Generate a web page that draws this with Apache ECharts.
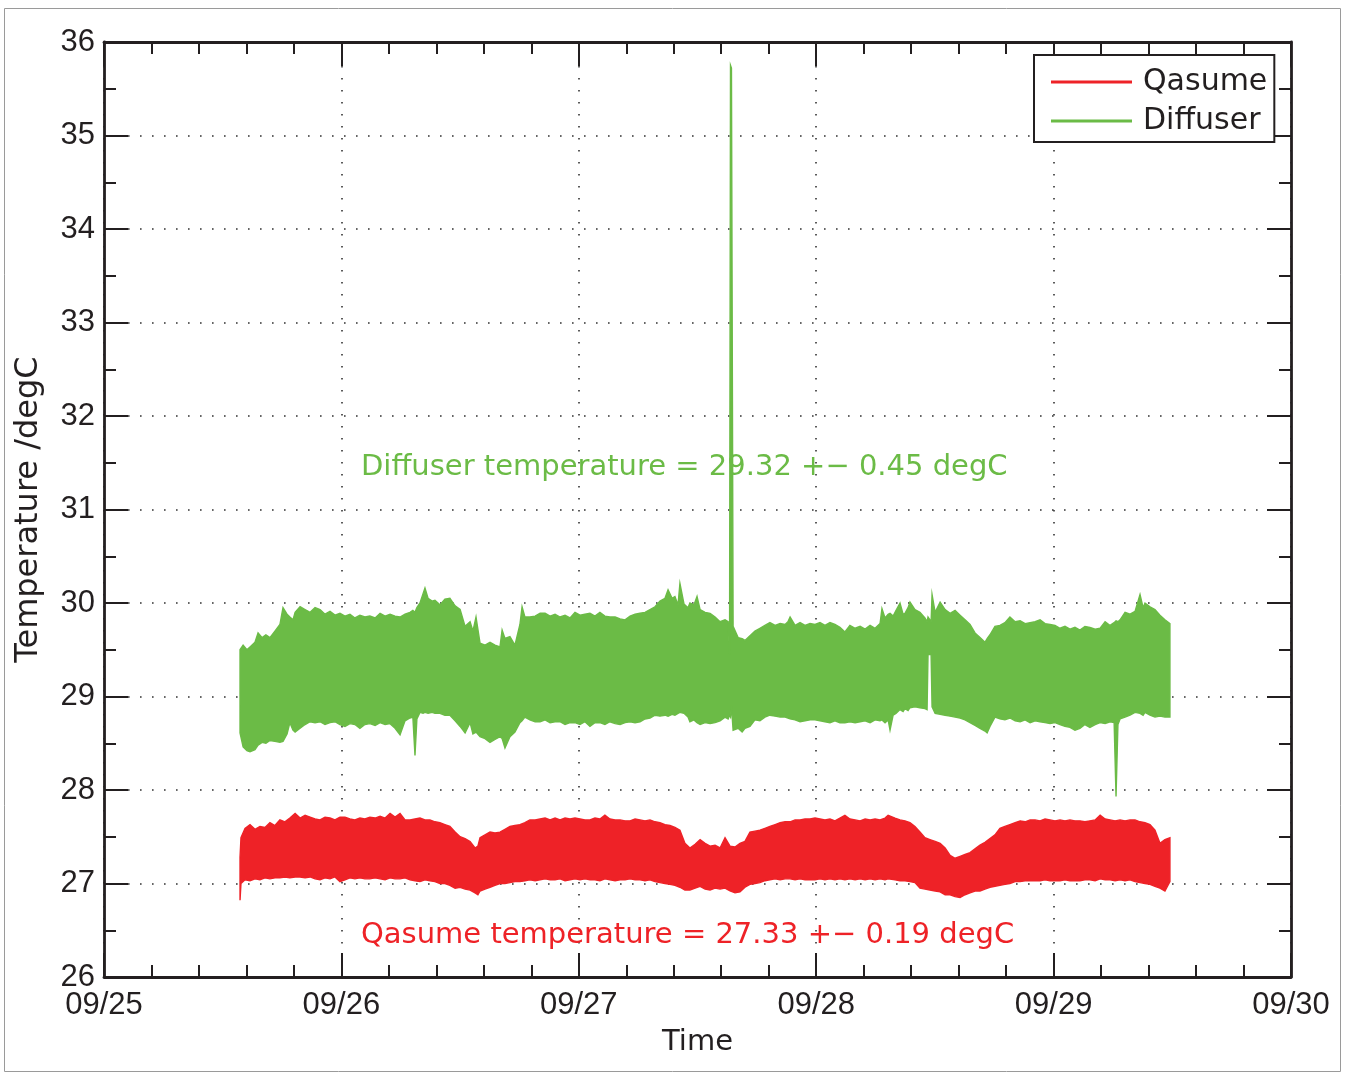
<!DOCTYPE html>
<html>
<head>
<meta charset="utf-8">
<title>Qasume and diffuser temperature</title>
<script src="https://cdn.jsdelivr.net/npm/echarts@6/dist/echarts.min.js"></script>
<style>
  html, body { margin: 0; padding: 0; background: #fff; }
  #chart { width: 1351px; height: 1074px; }
</style>
</head>
<body>
<div id="chart"></div>
<script>
// Time is given as day of September (09/25 00:00 = 25.0).
// Each row: [time, band top /degC, band bottom /degC] of the 1-min record.
const qasumeBand = [
  [25.573, 27.28, 26.82], [25.577, 27.49, 27.00], [25.594, 27.59, 27.04], [25.615, 27.63, 27.03],
  [25.636, 27.58, 27.05], [25.657, 27.61, 27.04], [25.678, 27.60, 27.06], [25.699, 27.65, 27.05],
  [25.720, 27.62, 27.06], [25.741, 27.68, 27.06], [25.762, 27.66, 27.07], [25.783, 27.70, 27.06],
  [25.805, 27.75, 27.07], [25.826, 27.70, 27.07], [25.847, 27.73, 27.06], [25.868, 27.71, 27.07],
  [25.889, 27.69, 27.05], [25.910, 27.68, 27.04], [25.931, 27.71, 27.06], [25.952, 27.70, 27.05],
  [25.973, 27.68, 27.07], [25.994, 27.71, 27.02], [26.015, 27.71, 27.04], [26.036, 27.69, 27.06],
  [26.057, 27.68, 27.05], [26.078, 27.70, 27.06], [26.099, 27.69, 27.05], [26.120, 27.71, 27.05],
  [26.142, 27.70, 27.06], [26.163, 27.72, 27.05], [26.184, 27.70, 27.04], [26.205, 27.75, 27.06],
  [26.226, 27.71, 27.05], [26.247, 27.75, 27.05], [26.268, 27.68, 27.06], [26.289, 27.68, 27.04],
  [26.310, 27.69, 27.03], [26.331, 27.70, 27.02], [26.352, 27.68, 27.04], [26.373, 27.68, 27.03],
  [26.394, 27.66, 27.02], [26.415, 27.65, 27.00], [26.436, 27.63, 27.00], [26.457, 27.61, 26.98],
  [26.479, 27.55, 26.95], [26.500, 27.50, 26.96], [26.521, 27.48, 26.94], [26.542, 27.45, 26.93],
  [26.563, 27.38, 26.90], [26.575, 27.40, 26.88], [26.584, 27.49, 26.92], [26.605, 27.52, 26.94],
  [26.626, 27.55, 26.96], [26.647, 27.54, 26.98], [26.668, 27.55, 27.00], [26.689, 27.58, 27.00],
  [26.710, 27.61, 27.01], [26.731, 27.62, 27.02], [26.752, 27.63, 27.02], [26.773, 27.65, 27.03],
  [26.794, 27.68, 27.04], [26.816, 27.68, 27.03], [26.837, 27.69, 27.04], [26.858, 27.70, 27.05],
  [26.879, 27.68, 27.04], [26.900, 27.70, 27.04], [26.921, 27.68, 27.05], [26.942, 27.70, 27.03],
  [26.963, 27.69, 27.04], [26.984, 27.70, 27.05], [27.005, 27.69, 27.04], [27.026, 27.68, 27.05],
  [27.047, 27.68, 27.04], [27.068, 27.70, 27.04], [27.089, 27.69, 27.03], [27.110, 27.73, 27.05],
  [27.131, 27.69, 27.04], [27.153, 27.68, 27.03], [27.174, 27.68, 27.04], [27.195, 27.67, 27.04],
  [27.216, 27.67, 27.05], [27.237, 27.69, 27.04], [27.258, 27.68, 27.04], [27.279, 27.67, 27.03],
  [27.300, 27.68, 27.04], [27.321, 27.66, 27.02], [27.342, 27.65, 27.01], [27.363, 27.63, 27.00],
  [27.384, 27.62, 26.99], [27.405, 27.60, 26.98], [27.426, 27.57, 26.96], [27.447, 27.43, 26.93],
  [27.468, 27.38, 26.93], [27.490, 27.42, 26.95], [27.511, 27.47, 26.97], [27.532, 27.43, 26.94],
  [27.553, 27.40, 26.93], [27.574, 27.41, 26.95], [27.595, 27.38, 26.94], [27.616, 27.49, 26.95],
  [27.637, 27.40, 26.92], [27.658, 27.39, 26.90], [27.679, 27.43, 26.91], [27.700, 27.45, 26.96],
  [27.721, 27.55, 26.99], [27.742, 27.56, 27.00], [27.763, 27.57, 27.01], [27.784, 27.59, 27.03],
  [27.805, 27.61, 27.04], [27.827, 27.63, 27.05], [27.848, 27.65, 27.04], [27.869, 27.66, 27.05],
  [27.890, 27.66, 27.05], [27.911, 27.68, 27.04], [27.932, 27.68, 27.05], [27.953, 27.69, 27.04],
  [27.974, 27.69, 27.04], [27.995, 27.70, 27.04], [28.016, 27.69, 27.05], [28.037, 27.68, 27.04],
  [28.058, 27.69, 27.05], [28.079, 27.67, 27.04], [28.100, 27.70, 27.05], [28.121, 27.73, 27.04],
  [28.142, 27.69, 27.05], [28.164, 27.68, 27.04], [28.185, 27.67, 27.05], [28.206, 27.69, 27.04],
  [28.227, 27.68, 27.05], [28.248, 27.69, 27.04], [28.269, 27.68, 27.05], [28.290, 27.70, 27.04],
  [28.303, 27.73, 27.05], [28.332, 27.70, 27.04], [28.353, 27.68, 27.03], [28.374, 27.67, 27.03],
  [28.395, 27.65, 27.02], [28.416, 27.61, 27.01], [28.437, 27.55, 26.95], [28.458, 27.49, 26.94],
  [28.479, 27.47, 26.93], [28.501, 27.45, 26.92], [28.522, 27.43, 26.91], [28.543, 27.38, 26.88],
  [28.564, 27.30, 26.88], [28.585, 27.27, 26.86], [28.606, 27.29, 26.85], [28.627, 27.31, 26.88],
  [28.648, 27.33, 26.90], [28.669, 27.37, 26.92], [28.690, 27.41, 26.92], [28.711, 27.44, 26.94],
  [28.732, 27.48, 26.96], [28.753, 27.52, 26.97], [28.774, 27.59, 26.98], [28.795, 27.61, 26.99],
  [28.816, 27.63, 27.00], [28.838, 27.65, 27.02], [28.859, 27.67, 27.02], [28.880, 27.66, 27.03],
  [28.901, 27.68, 27.03], [28.922, 27.68, 27.03], [28.943, 27.67, 27.03], [28.964, 27.69, 27.04],
  [28.985, 27.68, 27.03], [29.006, 27.67, 27.03], [29.027, 27.68, 27.03], [29.048, 27.67, 27.04],
  [29.069, 27.68, 27.03], [29.090, 27.67, 27.03], [29.111, 27.67, 27.03], [29.132, 27.66, 27.04],
  [29.153, 27.67, 27.04], [29.175, 27.68, 27.03], [29.196, 27.73, 27.05], [29.217, 27.69, 27.04],
  [29.238, 27.68, 27.04], [29.259, 27.67, 27.03], [29.280, 27.68, 27.04], [29.301, 27.67, 27.03],
  [29.322, 27.68, 27.04], [29.343, 27.68, 27.02], [29.364, 27.66, 27.01], [29.385, 27.65, 27.00],
  [29.406, 27.63, 26.99], [29.427, 27.57, 26.97], [29.448, 27.43, 26.95], [29.469, 27.47, 26.92],
  [29.490, 27.49, 27.02]
];

const diffuserBand = [
  [25.573, 29.50, 28.61], [25.586, 29.55, 28.46], [25.602, 29.50, 28.42], [25.615, 29.53, 28.41],
  [25.636, 29.58, 28.43], [25.649, 29.68, 28.48], [25.666, 29.63, 28.51], [25.682, 29.66, 28.50],
  [25.699, 29.63, 28.53], [25.720, 29.70, 28.52], [25.741, 29.77, 28.51], [25.754, 29.95, 28.52],
  [25.771, 29.88, 28.60], [25.783, 29.85, 28.72], [25.796, 29.82, 28.64], [25.805, 29.90, 28.62],
  [25.826, 29.96, 28.66], [25.847, 29.93, 28.70], [25.868, 29.90, 28.73], [25.889, 29.95, 28.72],
  [25.910, 29.93, 28.73], [25.931, 29.88, 28.70], [25.952, 29.91, 28.72], [25.973, 29.87, 28.73],
  [25.994, 29.89, 28.70], [26.015, 29.86, 28.68], [26.036, 29.88, 28.71], [26.057, 29.84, 28.70],
  [26.078, 29.87, 28.66], [26.099, 29.85, 28.70], [26.120, 29.86, 28.71], [26.142, 29.84, 28.69],
  [26.163, 29.89, 28.72], [26.184, 29.86, 28.70], [26.205, 29.88, 28.71], [26.226, 29.86, 28.66],
  [26.247, 29.85, 28.59], [26.268, 29.88, 28.74], [26.289, 29.90, 28.77], [26.301, 29.92, 28.78],
  [26.310, 29.90, 28.37], [26.318, 29.95, 28.76], [26.331, 30.00, 28.83], [26.344, 30.10, 28.82],
  [26.352, 30.16, 28.83], [26.365, 30.05, 28.82], [26.382, 30.02, 28.83], [26.394, 30.03, 28.82],
  [26.415, 29.98, 28.82], [26.436, 30.04, 28.80], [26.457, 30.05, 28.80], [26.479, 29.97, 28.74],
  [26.500, 29.93, 28.68], [26.521, 29.75, 28.61], [26.542, 29.80, 28.72], [26.554, 29.70, 28.60],
  [26.567, 29.85, 28.62], [26.584, 29.57, 28.57], [26.605, 29.55, 28.55], [26.626, 29.58, 28.51],
  [26.647, 29.55, 28.54], [26.668, 29.53, 28.57], [26.677, 29.71, 28.55], [26.689, 29.62, 28.45],
  [26.710, 29.64, 28.57], [26.731, 29.55, 28.62], [26.752, 29.77, 28.72], [26.761, 29.96, 28.74],
  [26.773, 29.85, 28.78], [26.794, 29.85, 28.75], [26.816, 29.86, 28.73], [26.837, 29.89, 28.73],
  [26.858, 29.89, 28.75], [26.879, 29.86, 28.72], [26.900, 29.88, 28.73], [26.921, 29.85, 28.73],
  [26.942, 29.87, 28.70], [26.963, 29.84, 28.72], [26.984, 29.90, 28.72], [27.005, 29.87, 28.70],
  [27.026, 29.88, 28.73], [27.047, 29.89, 28.68], [27.068, 29.86, 28.72], [27.089, 29.90, 28.72],
  [27.110, 29.86, 28.70], [27.131, 29.85, 28.73], [27.153, 29.85, 28.71], [27.174, 29.83, 28.70],
  [27.195, 29.82, 28.72], [27.216, 29.86, 28.73], [27.237, 29.88, 28.72], [27.258, 29.89, 28.73],
  [27.279, 29.90, 28.76], [27.300, 29.93, 28.77], [27.321, 29.96, 28.80], [27.342, 30.02, 28.79],
  [27.363, 30.05, 28.80], [27.376, 30.14, 28.79], [27.393, 30.05, 28.81], [27.405, 30.07, 28.80],
  [27.418, 29.98, 28.82], [27.426, 30.21, 28.83], [27.443, 29.99, 28.82], [27.460, 29.95, 28.78],
  [27.468, 30.00, 28.73], [27.485, 29.98, 28.75], [27.498, 30.07, 28.72], [27.511, 29.93, 28.70],
  [27.532, 29.90, 28.72], [27.553, 29.89, 28.71], [27.574, 29.85, 28.72], [27.595, 29.80, 28.74],
  [27.616, 29.82, 28.78], [27.629, 29.80, 28.76], [27.635, 29.45, 28.80], [27.639, 35.75, 28.78],
  [27.643, 35.72, 28.90], [27.650, 29.75, 28.64], [27.671, 29.63, 28.66], [27.688, 29.62, 28.62],
  [27.700, 29.60, 28.66], [27.721, 29.65, 28.68], [27.742, 29.70, 28.75], [27.763, 29.73, 28.74],
  [27.784, 29.76, 28.78], [27.805, 29.79, 28.80], [27.827, 29.76, 28.79], [27.848, 29.78, 28.78],
  [27.869, 29.77, 28.78], [27.881, 29.80, 28.77], [27.890, 29.85, 28.76], [27.911, 29.76, 28.75],
  [27.932, 29.79, 28.73], [27.953, 29.76, 28.74], [27.974, 29.78, 28.75], [27.995, 29.77, 28.75],
  [28.016, 29.79, 28.74], [28.037, 29.76, 28.73], [28.058, 29.79, 28.72], [28.079, 29.77, 28.74],
  [28.100, 29.74, 28.72], [28.121, 29.69, 28.72], [28.142, 29.76, 28.73], [28.164, 29.73, 28.72],
  [28.185, 29.75, 28.73], [28.206, 29.72, 28.74], [28.227, 29.76, 28.72], [28.248, 29.73, 28.75],
  [28.269, 29.78, 28.74], [28.277, 29.94, 28.75], [28.290, 29.84, 28.72], [28.303, 29.88, 28.75],
  [28.311, 29.89, 28.64], [28.324, 29.86, 28.80], [28.336, 29.92, 28.82], [28.353, 30.00, 28.86],
  [28.366, 29.88, 28.84], [28.374, 29.89, 28.87], [28.387, 29.95, 28.85], [28.395, 30.01, 28.88],
  [28.416, 29.93, 28.89], [28.437, 29.90, 28.88], [28.458, 29.84, 28.87], [28.467, 29.80, 28.86],
  [28.471, 29.85, 29.45], [28.484, 29.80, 29.45], [28.488, 30.09, 28.89], [28.501, 29.90, 28.82],
  [28.522, 30.01, 28.81], [28.543, 29.93, 28.80], [28.564, 29.89, 28.79], [28.585, 29.92, 28.78],
  [28.606, 29.87, 28.77], [28.627, 29.82, 28.75], [28.648, 29.77, 28.72], [28.669, 29.68, 28.69],
  [28.690, 29.63, 28.66], [28.711, 29.58, 28.63], [28.720, 29.62, 28.61], [28.732, 29.66, 28.68],
  [28.753, 29.75, 28.78], [28.774, 29.76, 28.76], [28.795, 29.79, 28.75], [28.816, 29.85, 28.77],
  [28.838, 29.80, 28.74], [28.859, 29.81, 28.73], [28.880, 29.78, 28.75], [28.901, 29.79, 28.72],
  [28.922, 29.80, 28.74], [28.943, 29.82, 28.73], [28.964, 29.78, 28.72], [28.985, 29.77, 28.71],
  [29.006, 29.76, 28.72], [29.027, 29.73, 28.70], [29.048, 29.75, 28.68], [29.069, 29.72, 28.67],
  [29.090, 29.74, 28.64], [29.111, 29.71, 28.66], [29.132, 29.75, 28.70], [29.153, 29.74, 28.67],
  [29.175, 29.72, 28.70], [29.196, 29.73, 28.72], [29.217, 29.80, 28.71], [29.238, 29.76, 28.73],
  [29.255, 29.79, 28.72], [29.263, 29.81, 27.93], [29.271, 29.80, 28.70], [29.280, 29.82, 28.76],
  [29.301, 29.90, 28.78], [29.322, 29.88, 28.80], [29.343, 29.91, 28.83], [29.364, 30.09, 28.82],
  [29.377, 29.95, 28.80], [29.385, 30.00, 28.83], [29.406, 29.96, 28.80], [29.427, 29.93, 28.78],
  [29.448, 29.87, 28.79], [29.469, 29.82, 28.78], [29.490, 29.78, 28.78]
];

const seriesNames = ['Qasume', 'Diffuser'];
const summaryTexts = [
  'Diffuser temperature = 29.32 +\u2212 0.45 degC',
  'Qasume temperature = 27.33 +\u2212 0.19 degC'
];
const dayRange = [25, 30];
const tempRange = [26, 36];

const RED = '#ee2227';
const GREEN = '#6bbb46';
const INK = '#231f20';
const TICK_FONT = '"Liberation Sans", Arial, sans-serif';
const TEXT_FONT = '"DejaVu Sans", sans-serif';

// Fills the envelope of a noisy record as one polygon: top edge forward, bottom edge back.
function bandItem(color) {
  return function (params, api) {
    if (params.dataIndexInside !== 0) return null;
    const n = params.dataInsideLength;
    const top = [];
    const bottom = [];
    for (let i = 0; i < n; i++) {
      const t = api.value(0, i);
      top.push(api.coord([t, api.value(1, i)]));
      bottom.push(api.coord([t, api.value(2, i)]));
    }
    return {
      type: 'polygon',
      shape: { points: top.concat(bottom.reverse()) },
      style: { fill: color, stroke: color, lineWidth: 1.4, lineJoin: 'miter' }
    };
  };
}

function axisBase(showLabels, showGrid) {
  return {
    axisLine: { show: true, onZero: false, lineStyle: { color: INK, width: 2.8 } },
    axisTick: { show: true, inside: true, length: 24, lineStyle: { color: INK, width: 2 } },
    minorTick: { show: true, length: 12, lineStyle: { color: INK, width: 2 } },
    splitLine: { show: showGrid, lineStyle: { color: '#333', width: 1.6, type: [1.6, 10.4] } },
    minorSplitLine: { show: false },
    axisLabel: { show: showLabels }
  };
}

const chart = echarts.init(document.getElementById('chart'), null, { renderer: 'canvas' });

const xBottom = Object.assign(axisBase(true, true), {
  type: 'value', position: 'bottom', min: dayRange[0], max: dayRange[1], interval: 1,
  name: 'Time', nameLocation: 'middle', nameGap: 51,
  nameTextStyle: { fontFamily: TEXT_FONT, fontSize: 29, color: INK }
});
xBottom.minorTick.splitNumber = 5;
xBottom.axisLabel = {
  show: true, margin: 13, fontFamily: TICK_FONT, fontSize: 31, color: INK,
  formatter: function (v) { return '09/' + v; }
};

const xTop = Object.assign(axisBase(false, false), {
  type: 'value', position: 'top', min: dayRange[0], max: dayRange[1], interval: 1
});
xTop.minorTick.splitNumber = 5;

const yLeft = Object.assign(axisBase(true, true), {
  type: 'value', position: 'left', min: tempRange[0], max: tempRange[1], interval: 1,
  name: 'Temperature /degC', nameLocation: 'middle', nameGap: 59,
  nameTextStyle: { fontFamily: TEXT_FONT, fontSize: 32, color: INK }
});
yLeft.minorTick.splitNumber = 2;
yLeft.axisLabel = { show: true, margin: 9, fontFamily: TICK_FONT, fontSize: 31, color: INK };

const yRight = Object.assign(axisBase(false, false), {
  type: 'value', position: 'right', min: tempRange[0], max: tempRange[1], interval: 1
});
yRight.minorTick.splitNumber = 2;

chart.setOption({
  animation: false,
  backgroundColor: '#ffffff',
  grid: { left: 104, right: 60, top: 42, bottom: 97, containLabel: false },
  xAxis: [xBottom, xTop],
  yAxis: [yLeft, yRight],
  legend: {
    orient: 'vertical', left: 1034, top: 55,
    padding: [12, 7, 6, 17], itemGap: 9,
    itemWidth: 81, itemHeight: 3,
    backgroundColor: '#ffffff', borderColor: INK, borderWidth: 2, borderRadius: 0,
    textStyle: { fontFamily: TEXT_FONT, fontSize: 30, color: INK, lineHeight: 30, padding: [0, 0, 0, 6] },
    data: [
      { name: seriesNames[0], icon: 'rect' },
      { name: seriesNames[1], icon: 'rect' }
    ],
    selectedMode: false, z: 10
  },
  series: [
    {
      name: seriesNames[0], type: 'custom', xAxisIndex: 0, yAxisIndex: 0,
      renderItem: bandItem(RED), itemStyle: { color: RED },
      encode: { x: 0, y: [1, 2] }, data: qasumeBand, silent: true, z: 3
    },
    {
      name: seriesNames[1], type: 'custom', xAxisIndex: 0, yAxisIndex: 0,
      renderItem: bandItem(GREEN), itemStyle: { color: GREEN },
      encode: { x: 0, y: [1, 2] }, data: diffuserBand, silent: true, z: 3
    }
  ],
  graphic: [
    {
      type: 'rect', silent: true, z: -10,
      shape: { x: 4.5, y: 8.5, width: 1336, height: 1063 },
      style: { fill: null, stroke: '#9a9a9a', lineWidth: 1 }
    },
    {
      type: 'text', x: 361, y: 467, z: 20,
      style: { text: summaryTexts[0], fill: GREEN, font: '29px ' + TEXT_FONT, verticalAlign: 'middle', align: 'left' }
    },
    {
      type: 'text', x: 361, y: 935, z: 20,
      style: { text: summaryTexts[1], fill: RED, font: '29px ' + TEXT_FONT, verticalAlign: 'middle', align: 'left' }
    }
  ]
});
</script>
</body>
</html>
